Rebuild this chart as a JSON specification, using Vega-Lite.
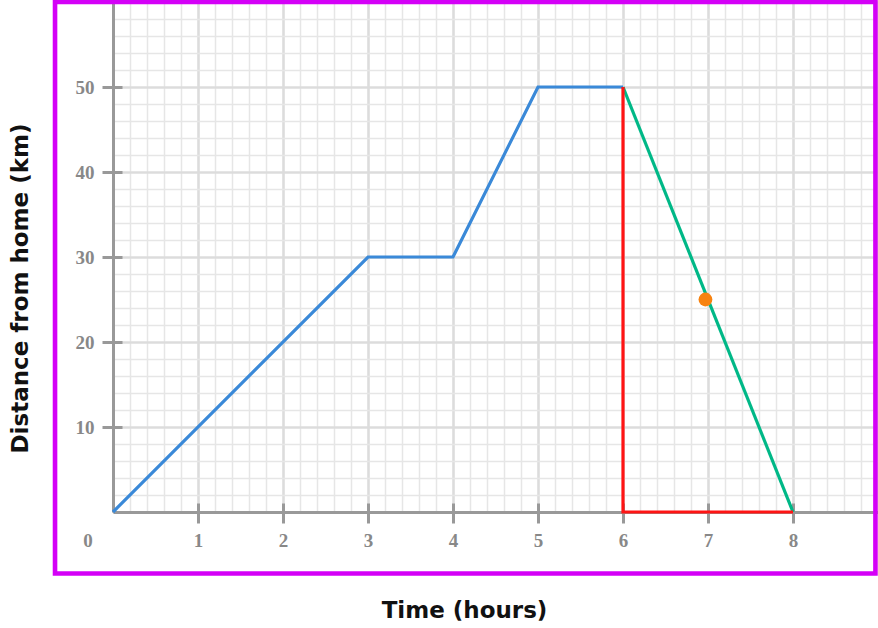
{
  "$schema": "https://vega.github.io/schema/vega-lite/v6.json",
  "width": 765,
  "height": 510,
  "autosize": {"type": "none"},
  "padding": {"left": 113, "top": 2, "right": 0, "bottom": 116},
  "background": "white",
  "config": {"view": {"stroke": null}},
  "resolve": {"axis": {"x": "independent", "y": "independent"}},
  "data": {
    "values": [
      {"series": "journey", "step": 1, "time": 0, "distance": 0},
      {"series": "journey", "step": 2, "time": 3, "distance": 30},
      {"series": "journey", "step": 3, "time": 4, "distance": 30},
      {"series": "journey", "step": 4, "time": 5, "distance": 50},
      {"series": "journey", "step": 5, "time": 6, "distance": 50},
      {"series": "return", "step": 1, "time": 6, "distance": 50},
      {"series": "return", "step": 2, "time": 8, "distance": 0},
      {"series": "triangle", "step": 1, "time": 6, "distance": 50},
      {"series": "triangle", "step": 2, "time": 6, "distance": 0},
      {"series": "triangle", "step": 3, "time": 8, "distance": 0},
      {"series": "point", "step": 1, "time": 6.97, "distance": 25}
    ]
  },
  "layer": [
    {
      "transform": [{"filter": "datum.series === 'journey'"}],
      "mark": {"type": "line", "color": "#3a89d8", "strokeWidth": 3.2},
      "encoding": {
        "x": {
          "field": "time",
          "type": "quantitative",
          "scale": {"domain": [0, 9]},
          "axis": {
            "title": "Time (hours)",
            "values": [0, 0.2, 0.4, 0.6, 0.8, 1, 1.2, 1.4, 1.6, 1.8, 2, 2.2, 2.4, 2.6, 2.8, 3, 3.2, 3.4, 3.6, 3.8, 4, 4.2, 4.4, 4.6, 4.8, 5, 5.2, 5.4, 5.6, 5.8, 6, 6.2, 6.4, 6.6, 6.8, 7, 7.2, 7.4, 7.6, 7.8, 8, 8.2, 8.4, 8.6, 8.8, 9],
            "tickCount": 200,
            "tickMinStep": 0.1,
            "grid": true,
            "gridColor": {"condition": {"test": "datum.value % 1 === 0", "value": "#dcdcdc"}, "value": "#e6e6e6"},
            "gridWidth": {"condition": {"test": "datum.value % 1 === 0", "value": 2.6}, "value": 1.5},
            "domainColor": "#999999",
            "domainWidth": 3,
            "tickColor": "#999999",
            "tickWidth": 3,
            "tickSize": 11,
            "tickOpacity": {"condition": {"test": "datum.value % 1 === 0 && datum.value > 0 && datum.value < 9", "value": 1}, "value": 0},
            "labelExpr": "datum.value % 1 === 0 && datum.value > 0 && datum.value < 9 ? '' + datum.value : ''",
            "labelFont": "Liberation Serif",
            "labelFontWeight": "bold",
            "labelFontSize": 19,
            "labelColor": "#888888",
            "labelBaseline": "top",
            "labelPadding": 8,
            "labelFlush": false,
            "labelOverlap": false,
            "titleFont": "DejaVu Sans",
            "titleFontSize": 23,
            "titleFontWeight": "bold",
            "titleColor": "#111111",
            "titleX": 351,
            "titleY": 98,
            "titleAlign": "center",
            "titleBaseline": "middle",
            "encoding": {"ticks": {"y": {"value": -9}}}
          }
        },
        "y": {
          "field": "distance",
          "type": "quantitative",
          "scale": {"domain": [0, 60]},
          "axis": {
            "title": "Distance from home (km)",
            "values": [0, 2, 4, 6, 8, 10, 12, 14, 16, 18, 20, 22, 24, 26, 28, 30, 32, 34, 36, 38, 40, 42, 44, 46, 48, 50, 52, 54, 56, 58, 60],
            "tickCount": 200,
            "tickMinStep": 1,
            "grid": true,
            "gridColor": {"condition": {"test": "datum.value % 10 === 0", "value": "#dcdcdc"}, "value": "#e6e6e6"},
            "gridWidth": {"condition": {"test": "datum.value % 10 === 0", "value": 2.6}, "value": 1.5},
            "domainColor": "#999999",
            "domainWidth": 3,
            "tickColor": "#999999",
            "tickWidth": 3,
            "tickSize": 11,
            "tickOpacity": {"condition": {"test": "datum.value % 10 === 0 && datum.value > 0 && datum.value < 60", "value": 1}, "value": 0},
            "labelExpr": "datum.value % 10 === 0 && datum.value > 0 && datum.value < 60 ? '' + datum.value : ''",
            "labelFont": "Liberation Serif",
            "labelFontWeight": "bold",
            "labelFontSize": 19,
            "labelColor": "#888888",
            "labelBaseline": "middle",
            "labelPadding": 8,
            "labelFlush": false,
            "labelOverlap": false,
            "titleFont": "DejaVu Sans",
            "titleFontSize": 23,
            "titleFontWeight": "bold",
            "titleColor": "#111111",
            "titleX": -93,
            "titleY": 286,
            "titleAngle": -90,
            "titleAlign": "center",
            "titleBaseline": "middle",
            "encoding": {"ticks": {"x": {"value": 9}}}
          }
        },
        "order": {"field": "step"}
      }
    },
    {
      "transform": [{"filter": "datum.series === 'return'"}],
      "mark": {"type": "line", "color": "#00b887", "strokeWidth": 3.2},
      "encoding": {
        "x": {"field": "time", "type": "quantitative", "scale": {"domain": [0, 9]}, "axis": null},
        "y": {"field": "distance", "type": "quantitative", "scale": {"domain": [0, 60]}, "axis": null},
        "order": {"field": "step"}
      }
    },
    {
      "transform": [{"filter": "datum.series === 'triangle'"}],
      "mark": {"type": "line", "color": "#ff1414", "strokeWidth": 3.2},
      "encoding": {
        "x": {"field": "time", "type": "quantitative", "scale": {"domain": [0, 9]}, "axis": null},
        "y": {"field": "distance", "type": "quantitative", "scale": {"domain": [0, 60]}, "axis": null},
        "order": {"field": "step"}
      }
    },
    {
      "transform": [{"filter": "datum.series === 'point'"}],
      "mark": {"type": "point", "filled": true, "opacity": 1, "color": "#f7820f", "size": 190},
      "encoding": {
        "x": {"field": "time", "type": "quantitative", "scale": {"domain": [0, 9]}, "axis": null},
        "y": {"field": "distance", "type": "quantitative", "scale": {"domain": [0, 60]}, "axis": null}
      }
    },
    {
      "data": {"values": [{"label": "0"}]},
      "mark": {"type": "text", "font": "Liberation Serif", "fontWeight": "bold", "fontSize": 19, "color": "#888888", "dx": -25, "dy": 29, "baseline": "middle", "align": "center"},
      "encoding": {
        "x": {"datum": 0, "type": "quantitative", "scale": {"domain": [0, 9]}, "axis": null},
        "y": {"datum": 0, "type": "quantitative", "scale": {"domain": [0, 60]}, "axis": null},
        "text": {"field": "label"}
      }
    },
    {
      "data": {"values": [{"frame": "border"}]},
      "mark": {"type": "rect", "fill": null, "stroke": "#d400f7", "strokeWidth": 4.6},
      "encoding": {
        "x": {"datum": -0.682, "type": "quantitative", "scale": {"domain": [0, 9]}, "axis": null},
        "x2": {"datum": 8.97},
        "y": {"datum": -7.23, "type": "quantitative", "scale": {"domain": [0, 60]}, "axis": null},
        "y2": {"datum": 60}
      }
    }
  ]
}
